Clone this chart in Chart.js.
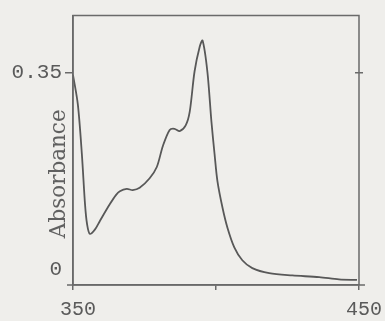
<!DOCTYPE html>
<html>
<head>
<meta charset="utf-8">
<script src="https://cdn.jsdelivr.net/npm/chart.js@4"></script>
<style>
  html, body { margin: 0; padding: 0; background: #efeeeb; }
  canvas { display: block; }
</style>
</head>
<body>
<canvas id="spectrum" width="385" height="321"></canvas>
<script>
// wavelength (nm) and absorbance
const wavelength = [350.0, 351.7, 353.1, 354.2, 354.9, 355.9, 357.7, 359.4, 362.9, 365.0,
    366.4, 368.8, 370.9, 373.3, 376.8, 379.3, 381.4, 383.8, 385.5, 387.3,
    389.4, 390.8, 392.5, 394.3, 395.3, 397.0, 398.4, 399.5, 400.5, 402.3,
    404.0, 406.4, 409.2, 412.7, 418.6, 426.7, 436.1, 443.0, 449.3];
const absorbance = [0.346, 0.293, 0.205, 0.116, 0.081, 0.063, 0.071, 0.086, 0.116, 0.132,
    0.139, 0.143, 0.141, 0.145, 0.162, 0.182, 0.219, 0.248, 0.250, 0.246,
    0.256, 0.280, 0.352, 0.396, 0.407, 0.351, 0.263, 0.205, 0.157, 0.109,
    0.074, 0.039, 0.016, 0.002, -0.007, -0.011, -0.014, -0.018, -0.019];

const xTicks = [350, 400, 450];
const xTickLabels = ['350', '', '450'];
const yTicks = [0, 0.35];
const yTickLabels = ['0', '0.35'];
const yTitle = 'Absorbance';

const inkColor = '#585858';
const axisColor = '#6a6a6a';
const typeFont = "'Liberation Mono', 'DejaVu Sans Mono', monospace";
const titleFont = "'DejaVu Serif', 'Liberation Serif', serif";

// frame round the plot and the rotated axis title
const framePlugin = {
    id: 'frame',
    afterDraw(chart) {
        const { ctx, chartArea: a } = chart;
        const y = chart.scales.y;
        ctx.save();
        ctx.strokeStyle = axisColor;
        ctx.lineWidth = 1.5;
        ctx.beginPath();
        ctx.moveTo(a.left, a.bottom);
        ctx.lineTo(a.left, a.top);
        ctx.lineTo(a.right, a.top);
        ctx.lineTo(a.right, a.bottom);
        ctx.moveTo(a.left - 6, a.bottom);
        ctx.lineTo(a.right + 6, a.bottom);
        // small tick on the right edge
        const t = y.getPixelForValue(0.35);
        ctx.moveTo(a.right - 4, t);
        ctx.lineTo(a.right + 4, t);
        ctx.stroke();

        ctx.fillStyle = '#606060';
        ctx.font = '21.5px ' + titleFont;
        ctx.textAlign = 'center';
        ctx.textBaseline = 'middle';
        ctx.translate(a.left - 14, y.getPixelForValue(0.17));
        ctx.rotate(-Math.PI / 2);
        ctx.fillText(yTitle, 0, 0);
        ctx.restore();
    }
};

const data = {
    datasets: [{
        data: wavelength.map((w, i) => ({ x: w, y: absorbance[i] })),
        borderColor: inkColor,
        borderWidth: 1.8,
        pointRadius: 0,
        tension: 0.3,
        fill: false
    }]
};

const config = {
    type: 'line',
    data: data,
    options: {
        responsive: false,
        animation: false,
        devicePixelRatio: 1,
        layout: { padding: { top: 13, right: 25, left: 0, bottom: 0 } },
        plugins: {
            legend: { display: false },
            tooltip: { enabled: false }
        },
        scales: {
            x: {
                type: 'linear',
                min: 350,
                max: 450,
                afterBuildTicks: scale => { scale.ticks = xTicks.map(v => ({ value: v })); },
                afterFit: scale => { scale.height = 36; },
                ticks: {
                    color: '#5a5a5a',
                    font: { family: typeFont, size: 20 },
                    padding: 8,
                    labelOffset: 5,
                    maxRotation: 0,
                    autoSkip: false,
                    callback: (v, i) => xTickLabels[i]
                },
                grid: {
                    drawOnChartArea: false,
                    tickLength: 5,
                    color: axisColor,
                    lineWidth: 1.5
                },
                border: { display: true, color: axisColor, width: 1.5 }
            },
            y: {
                type: 'linear',
                min: -0.028,
                max: 0.4515,
                afterBuildTicks: scale => { scale.ticks = yTicks.map(v => ({ value: v })); },
                afterFit: scale => { scale.width = 73; },
                ticks: {
                    color: '#5a5a5a',
                    font: { family: typeFont, size: 21 },
                    padding: 3,
                    autoSkip: false,
                    callback: (v, i) => yTickLabels[i]
                },
                grid: {
                    drawOnChartArea: false,
                    tickLength: 8,
                    color: ctx => ctx.tick && ctx.tick.value === 0 ? 'rgba(0,0,0,0)' : axisColor,
                    lineWidth: 1.5
                },
                border: { display: true, color: axisColor, width: 1.5 }
            }
        }
    },
    plugins: [framePlugin]
};

new Chart(document.getElementById('spectrum'), config);
</script>
</body>
</html>
